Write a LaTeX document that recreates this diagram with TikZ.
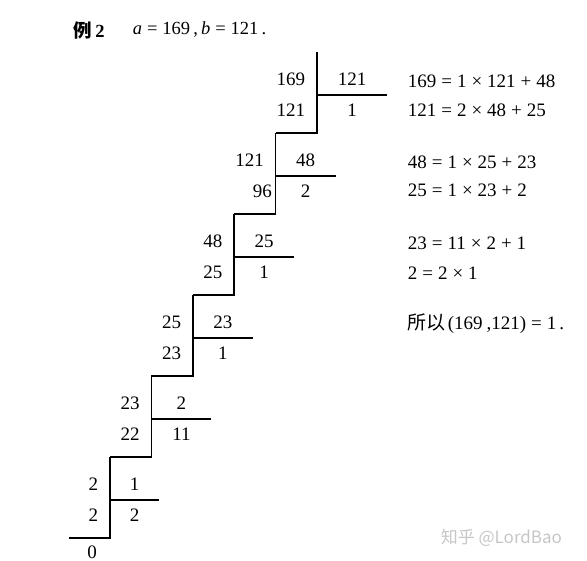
\documentclass[tikz,border=0pt]{standalone}
\usepackage{fontspec}
\setmainfont{Liberation Serif}
\newfontfamily\cjk{Noto Sans CJK SC}
\usetikzlibrary{positioning}
\newcommand\op[1]{\kern5pt#1\kern5pt}

\begin{document}
\begin{tikzpicture}[x=1pt, y=-1pt, line width=1.6pt,
    num/.style={font=\fontsize{19}{21}\selectfont, inner sep=0pt},
    eqn/.style={font=\fontsize{19}{21}\selectfont, anchor=west, inner sep=0pt},
    head/.style={font=\fontsize{18.5}{20}\selectfont, anchor=west, inner sep=0pt}]
    \def\stepw{41.4}
    \def\steph{81}
    \useasboundingbox (0,0) rectangle (587,561);

    % title
    \node[head] (title) at (73,30) {{\cjk\bfseries 例}\,\textbf{2}};
    \node[head] (ab) at (132,30) {\textit{a}\op{=}169\,,\,\textit{b}\op{=}121\,.};

    % stairs with quotients and remainders
    \foreach \k/\ta/\tb/\ra/\rb/\len/\sh in {
        0/169/121/121/1/70/0,
        1/121/96/48/2/60/8,
        2/48/25/25/1/60/0,
        3/25/23/23/1/60/0,
        4/23/22/2/11/60/0,
        5/2/2/1/2/49/0}{

        \coordinate (s\k) at (317-\k*\stepw, 52+\k*\steph);
        \draw (s\k) |- ++(-\stepw,\steph);
        \draw (s\k) ++(0,43) coordinate (c\k) -- ++(\len,0);

        \node[num, anchor=east] (a\k) at ([shift={(-11,27)}]s\k) {\ta};
        \node[num, anchor=east] (b\k) at ([shift={(-11+\sh,58)}]s\k) {\tb};
        \node[num] (q\k) at ([shift={(\len/2,27)}]s\k) {\ra};
        \node[num] (r\k) at ([shift={(\len/2,58)}]s\k) {\rb};
    }
    \node[num] (zero) at (92,552) {0};

    % equations
    \node[eqn] (e1) at (407,81) {169\op{=}1\op{×}121\op{+}48};
    \node[eqn] (e2) at (407,110) {121\op{=}2\op{×}48\op{+}25};
    \node[eqn] (e3) at (407,162) {48\op{=}1\op{×}25\op{+}23};
    \node[eqn] (e4) at (407,190) {25\op{=}1\op{×}23\op{+}2};
    \node[eqn] (e5) at (407,243) {23\op{=}11\op{×}2\op{+}1};
    \node[eqn] (e6) at (407,273) {2\op{=}2\op{×}1};
    \node[eqn] (e7) at (407,324) {{\cjk 所以}\kern2pt(169\kern4pt,121)\op{=}1\kern3pt.};

    % watermark
    \node[anchor=west, inner sep=0pt, text=gray!45, font=\cjk\fontsize{17}{19}\selectfont] (mark) at (440,538) {知乎 @LordBao};
\end{tikzpicture}
\end{document}
